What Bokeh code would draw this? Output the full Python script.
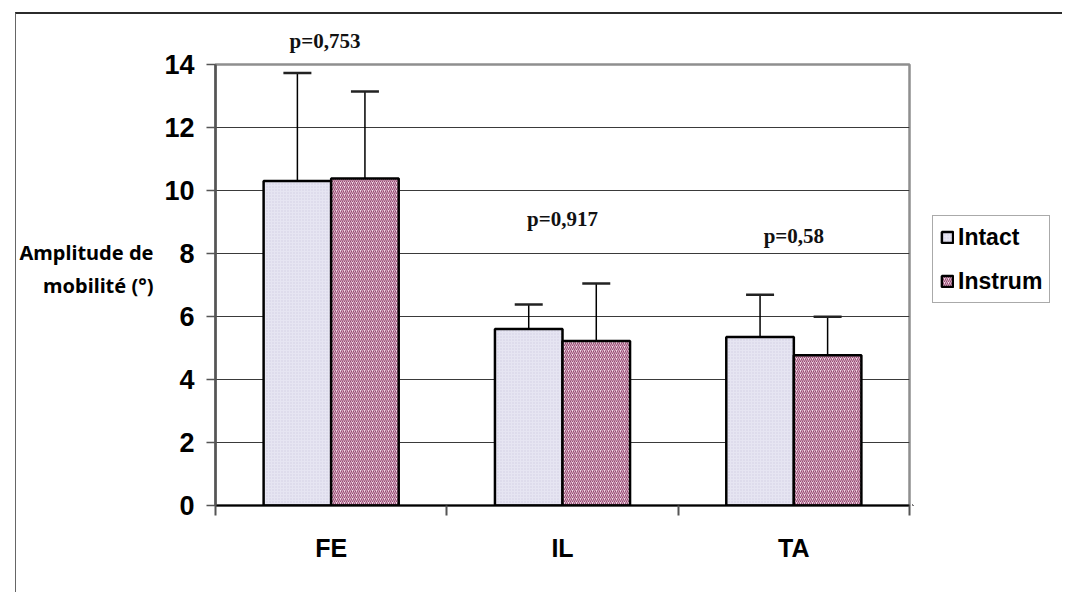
from bokeh.plotting import figure
from bokeh.layouts import row
from bokeh.models import (Range1d, FixedTicker, ColumnDataSource, Whisker, TeeHead, Label,
                          Legend, LegendItem, Title)
from bokeh.embed import file_html
from bokeh.resources import INLINE

categories = ["FE", "IL", "TA"]
series = ["Intact", "Instrum"]
intact = [10.30, 5.60, 5.35]
instrum = [10.38, 5.22, 4.77]
intact_sd = [3.43, 0.78, 1.34]
instrum_sd = [2.76, 1.83, 1.22]
p_values = ["p=0,753", "p=0,917", "p=0,58"]
y_ticks = [0, 2, 4, 6, 8, 10, 12, 14]
y_title = "Amplitude de\nmobilité (°)\n "

# layout
p_label_x = [0.47, 1.5, 2.5]
p_label_y = [14.83, 9.11, 8.55]
off = 0.146
bw = 0.292
H = 578

n = len(categories)
centers = [i + 0.5 for i in range(n)]

src_a = ColumnDataSource(dict(x=[c - off for c in centers], top=intact,
                              upper=[v + s for v, s in zip(intact, intact_sd)]))
src_b = ColumnDataSource(dict(x=[c + off for c in centers], top=instrum,
                              upper=[v + s for v, s in zip(instrum, instrum_sd)]))

style_a = dict(fill_color="#e6e5f2", hatch_pattern="dot", hatch_color="#d2d0e2",
               hatch_scale=3, hatch_weight=1, line_color="black", line_width=2.5)
style_b = dict(fill_color="#f3dce8", hatch_pattern="right_diagonal_line",
               hatch_color="#974a72", hatch_scale=4, hatch_weight=1.15,
               line_color="black", line_width=2.5)

p = figure(width=896, height=H, output_backend="svg", toolbar_location=None,
           x_range=Range1d(0, n), y_range=Range1d(0, 14),
           min_border_left=198, min_border_right=3, min_border_top=50, min_border_bottom=87)
p.title.visible = False
p.background_fill_color = "white"
p.border_fill_color = "white"
p.outline_line_color = "#8f8f8f"
p.outline_line_width = 2.5

# x axis
xa = p.xaxis[0]
xa.ticker = FixedTicker(ticks=centers, minor_ticks=list(range(n + 1)))
xa.major_label_overrides = {c: cat for c, cat in zip(centers, categories)}
xa.major_tick_line_color = None
xa.major_tick_out = 0
xa.major_tick_in = 0
xa.minor_tick_out = 10
xa.minor_tick_in = 0
xa.minor_tick_line_color = "#555555"
xa.minor_tick_line_width = 2
xa.axis_line_color = "black"
xa.axis_line_width = 2
xa.major_label_text_font = "Liberation Sans"
xa.major_label_text_font_style = "bold"
xa.major_label_text_font_size = "25px"
xa.major_label_text_color = "black"
xa.major_label_standoff = 18

# y axis
ya = p.yaxis[0]
ya.ticker = FixedTicker(ticks=y_ticks)
ya.major_tick_out = 9
ya.major_tick_in = 0
ya.minor_tick_line_color = None
ya.axis_line_color = "#555555"
ya.axis_line_width = 2.5
ya.major_tick_line_color = "#555555"
ya.major_tick_line_width = 1.5
ya.major_label_text_font = "Liberation Sans"
ya.major_label_text_font_style = "bold"
ya.major_label_text_font_size = "27px"
ya.major_label_text_color = "black"
ya.major_label_standoff = 12
ya.axis_label = y_title
ya.axis_label_orientation = "horizontal"
ya.axis_label_text_align = "center"
ya.axis_label_text_font = "Noto Sans"
ya.axis_label_text_font_style = "bold"
ya.axis_label_text_font_size = "20px"
ya.axis_label_text_color = "black"
ya.axis_label_standoff = 8

p.xgrid.visible = False
p.ygrid.grid_line_color = "#3a3a3a"
p.ygrid.grid_line_width = 1.2

p.vbar(x="x", top="top", width=bw, source=src_a, **style_a)
p.vbar(x="x", top="top", width=bw, source=src_b, **style_b)

for src in (src_a, src_b):
    w = Whisker(source=src, base="x", lower="top", upper="upper", dimension="height",
                line_color="black", line_width=1.5, lower_head=None,
                upper_head=TeeHead(size=28, line_width=2.5, line_color="#222222"),
                level="annotation")
    p.add_layout(w)

# p-values: the first lies above the frame -> title panel; the others inside the frame
p.add_layout(Title(text=p_values[0], align="left", offset=74, standoff=22,
                   vertical_align="middle",
                   text_font="Liberation Serif", text_font_style="bold",
                   text_font_size="21px", text_color="#111111"), "above")
for x, y, t in zip(p_label_x[1:], p_label_y[1:], p_values[1:]):
    p.add_layout(Label(x=x, y=y, text=t, text_align="center", text_baseline="middle",
                       text_font="Liberation Serif", text_font_style="bold",
                       text_font_size="21px", text_color="#111111"))

# legend panel (separate, axis-less figure; its frame is aligned with the main one)
q = figure(width=150, height=H, output_backend="svg", toolbar_location=None,
           x_range=Range1d(0, 1), y_range=Range1d(0, 1),
           x_axis_location=None, y_axis_location=None, min_border=0)
q.title.visible = False
q.grid.visible = False
q.outline_line_color = None
q.background_fill_color = "white"
q.border_fill_color = "white"
# proxies for the legend glyphs: same styles, placed outside the visible range
la = q.vbar(x=[-5], top=[-5], width=0.1, **style_a)
lb = q.vbar(x=[-5], top=[-5], width=0.1, **style_b)

legend = Legend(items=[LegendItem(label=series[0], renderers=[la]),
                       LegendItem(label=series[1], renderers=[lb])],
                location=(20, 202))
legend.label_text_font = "Liberation Sans"
legend.label_text_font_style = "bold"
legend.label_text_font_size = "23px"
legend.label_text_color = "black"
legend.label_height = 28
legend.glyph_height = 14
legend.glyph_width = 14
legend.label_standoff = 4
legend.spacing = 16
legend.padding = 7
legend.margin = 0
legend.border_line_color = "#555555"
legend.border_line_width = 1.5
legend.background_fill_color = "white"
q.add_layout(legend)

layout = row(p, q, spacing=0)
layout.margin = (12, 0, 0, 15)
layout.styles = {"border-top": "2px solid #2b2b2b", "border-left": "1.5px solid #666666"}

open("out.html", "w").write(file_html(layout, INLINE))
